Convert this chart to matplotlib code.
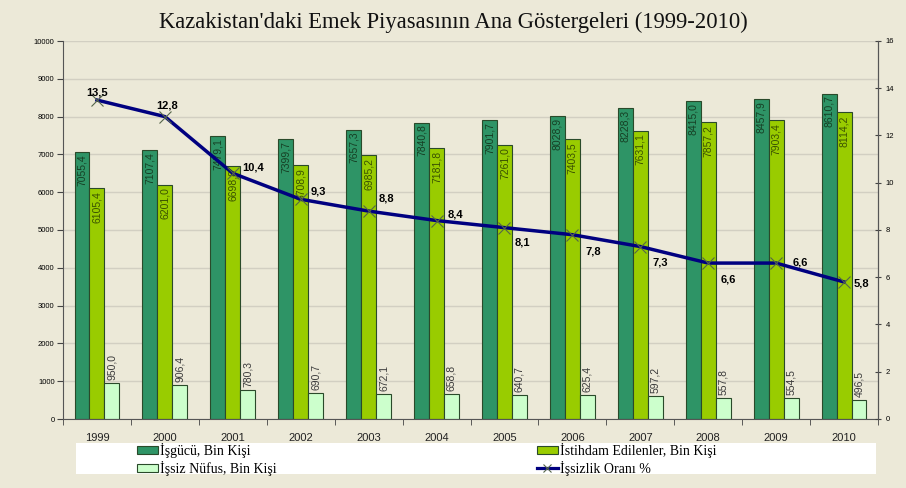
import matplotlib
matplotlib.use("Agg")
import matplotlib.pyplot as plt
from matplotlib.patches import Rectangle, Patch
from matplotlib.lines import Line2D
import numpy as np

years = ["1999", "2000", "2001", "2002", "2003", "2004", "2005", "2006", "2007", "2008", "2009", "2010"]
isgucu = [7055.4, 7107.4, 7479.1, 7399.7, 7657.3, 7840.8, 7901.7, 8028.9, 8228.3, 8415.0, 8457.9, 8610.7]
istihdam = [6105.4, 6201.0, 6698.8, 6708.9, 6985.2, 7181.8, 7261.0, 7403.5, 7631.1, 7857.2, 7903.4, 8114.2]
issiz = [950.0, 906.4, 780.3, 690.7, 672.1, 658.8, 640.7, 625.4, 597.2, 557.8, 554.5, 496.5]
oran = [13.5, 12.8, 10.4, 9.3, 8.8, 8.4, 8.1, 7.8, 7.3, 6.6, 6.6, 5.8]

title = "Kazakistan'daki Emek Piyasasının Ana Göstergeleri (1999-2010)"
leg_labels = ["İşgücü, Bin Kişi", "İstihdam Edilenler, Bin Kişi", "İşsiz Nüfus, Bin Kişi", "İşsizlik Oranı %"]

# label offsets (pixels) for the rate labels
rate_offsets = [(0, 8), (2, 11), (20, 6), (18, 8), (18, 13), (19, 6), (18, -15),
                (21, -17), (20, -16), (20, -16), (24, 1), (17, -2)]

BG = "#ECE9D8"
C_DARK = "#2E9466"
C_LIGHT = "#99CC00"
C_PALE = "#CCFFCC"
EDGE = "#2A4A2A"
NAVY = "#000080"

def fmt(v):
    return f"{v:.1f}".replace(".", ",")

W, H = 906, 488
fig = plt.figure(figsize=(W / 100, H / 100), dpi=100, facecolor=BG)
ax = fig.add_axes([63 / W, 1 - 419 / H, (878 - 63) / W, (419 - 41) / H])
ax.set_facecolor(BG)

x = np.arange(len(years))
bw = 0.22
ax.bar(x - bw, isgucu, bw, color=C_DARK, edgecolor=EDGE, linewidth=0.8, zorder=2)
ax.bar(x, istihdam, bw, color=C_LIGHT, edgecolor=EDGE, linewidth=0.8, zorder=2)
ax.bar(x + bw, issiz, bw, color=C_PALE, edgecolor=EDGE, linewidth=0.8, zorder=2)

sans = "Liberation Sans"
for xi, v in zip(x - bw, isgucu):
    ax.annotate(fmt(v), (xi, v), xytext=(0, -2), textcoords="offset pixels", rotation=90,
                ha="center", va="top", fontsize=7.5, color="#163F24", family=sans, zorder=3)
for xi, v in zip(x, istihdam):
    ax.annotate(fmt(v), (xi, v), xytext=(0, -3), textcoords="offset pixels", rotation=90,
                ha="center", va="top", fontsize=7.5, color="#3A5200", family=sans, zorder=3)
for xi, v in zip(x + bw, issiz):
    ax.annotate(fmt(v), (xi, v), xytext=(0, 3), textcoords="offset pixels", rotation=90,
                ha="center", va="bottom", fontsize=7.5, color="#3A3A3A", family=sans, zorder=3)

ax.set_xlim(-0.5, len(years) - 0.5)
ax.set_ylim(0, 10000)
ax.set_yticks(np.arange(0, 10001, 1000))
ax.set_yticklabels([str(v) for v in range(0, 10001, 1000)], fontsize=5.5, family=sans)
ax.yaxis.grid(True, color="#D2CFC2", linewidth=1.0, zorder=0)
ax.set_axisbelow(True)
ax.set_xticks(x)
ax.set_xticklabels(years, fontsize=8, family=sans, color="#222222")
ax.set_xticks(np.arange(-0.5, len(years), 1), minor=True)
ax.tick_params(axis="x", which="major", length=0, pad=10)
ax.tick_params(axis="x", which="minor", length=4, direction="out", color="#444444")
ax.tick_params(axis="y", length=4, direction="out", color="#444444", pad=2)
ax.spines["top"].set_visible(False)
for s in ["left", "bottom", "right"]:
    ax.spines[s].set_color("#555555")

ax2 = ax.twinx()
ax2.set_ylim(0, 16)
ax2.set_yticks(np.arange(0, 17, 2))
ax2.set_yticklabels([str(v) for v in range(0, 17, 2)], fontsize=5.5, family=sans)
ax2.tick_params(axis="y", length=5, direction="inout", color="#444444", pad=3)
for s in ["top", "left", "bottom"]:
    ax2.spines[s].set_visible(False)
ax2.spines["right"].set_color("#555555")
ax2.plot(x, oran, color=NAVY, linewidth=2.5, zorder=4, solid_joinstyle="round")
ax2.plot(x, oran, linestyle="none", marker="x", markersize=9, markeredgewidth=0.8,
         markeredgecolor="#55664A", zorder=5)
for xi, v, off in zip(x, oran, rate_offsets):
    ax2.annotate(fmt(v), (xi, v), xytext=off, textcoords="offset pixels",
                 ha="center", va="center", fontsize=8, fontweight="bold",
                 color="black", family=sans, zorder=6)

fig.text(0.5, 1 - 22 / H, title, ha="center", va="center", fontsize=16.3,
         family="Liberation Serif", color="#111111")

fig.add_artist(Rectangle((76 / W, 1 - 474 / H), 800 / W, 31 / H, transform=fig.transFigure,
                         facecolor="white", edgecolor="none", zorder=1))

h1 = Patch(facecolor=C_DARK, edgecolor=EDGE, linewidth=0.8)
h2 = Patch(facecolor=C_LIGHT, edgecolor=EDGE, linewidth=0.8)
h3 = Patch(facecolor=C_PALE, edgecolor=EDGE, linewidth=0.8)
h4 = Line2D([], [], color=NAVY, linewidth=2.3, marker="x", markersize=6,
            markeredgecolor="#55664A", markeredgewidth=0.8)
lp = dict(family="Liberation Serif", size=10)
kw = dict(frameon=False, borderpad=0, borderaxespad=0, labelspacing=0.2, handlelength=1.5,
          handleheight=0.45, handletextpad=0.15, prop=lp, loc="upper left")
fig.legend([h1, h3], [leg_labels[0], leg_labels[2]], bbox_to_anchor=(137 / W, 1 - 443 / H), **kw)
fig.legend([h2, h4], [leg_labels[1], leg_labels[3]], bbox_to_anchor=(537 / W, 1 - 443 / H), **kw)

fig.savefig("out.png", dpi=100, facecolor=BG)
